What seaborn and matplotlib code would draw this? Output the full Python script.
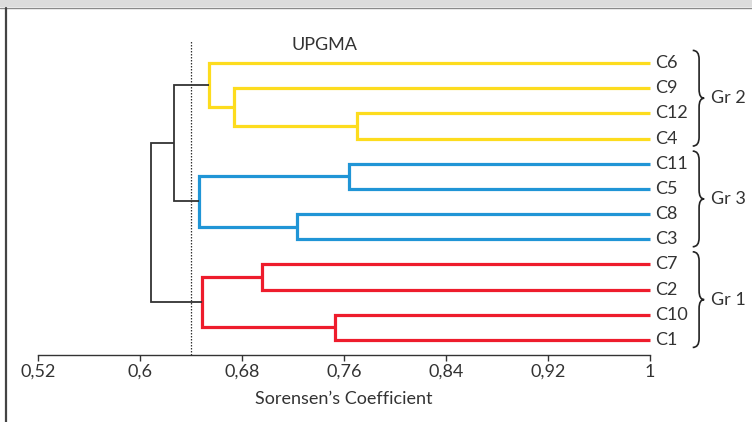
import matplotlib
matplotlib.use("Agg")
import matplotlib.pyplot as plt
import seaborn as sns
from matplotlib.path import Path
from matplotlib.patches import PathPatch, Rectangle
from matplotlib.lines import Line2D

# ---- data ----
leaves = ["C6", "C9", "C12", "C4", "C11", "C5", "C8", "C3", "C7", "C2", "C10", "C1"]
# merges: node ids 0..11 are leaves (in order above), new nodes get 12, 13, ...
merge_a = [2, 1, 0, 4, 6, 15, 8, 10, 18, 14, 21]
merge_b = [3, 12, 13, 5, 7, 16, 9, 11, 19, 17, 20]
merge_h = [0.770, 0.674, 0.654, 0.764, 0.723, 0.646, 0.696, 0.753, 0.649, 0.627, 0.609]
merge_c = ["y", "y", "y", "b", "b", "b", "r", "r", "r", "k", "k"]
groups = ["Gr 2", "Gr 3", "Gr 1"]
group_first = [0, 4, 8]
group_last = [3, 7, 11]
ticks = [0.52, 0.60, 0.68, 0.76, 0.84, 0.92, 1.0]
tick_labels = ["0,52", "0,6", "0,68", "0,76", "0,84", "0,92", "1"]
cut_value = 0.640

colors = {"y": "#FDDC1E", "b": "#2095D6", "r": "#EE1C2C", "k": "#333333"}

sns.set_theme(style="white")
plt.rcParams["font.family"] = ["Lato", "DejaVu Sans"]
txt = "#333333"
fs = 13

fig = plt.figure(figsize=(7.52, 4.22), dpi=100)
W, H = 752, 422
ax = fig.add_axes([38 / W, (H - 355) / H, (650 - 38) / W, (355 - 30) / H])

ax.set_xlim(0.52, 1.0)
ax.set_ylim(11.6, -1.31)

# node positions
pos = {i: (1.0, float(i)) for i in range(len(leaves))}
nid = len(leaves)
for a, b, h, c in zip(merge_a, merge_b, merge_h, merge_c):
    xa, ya = pos[a]
    xb, yb = pos[b]
    lw = 1.3 if c == "k" else 2.3
    col = colors[c]
    ax.plot([xa, h, h, xb], [ya, ya, yb, yb], color=col, lw=lw,
            solid_capstyle="butt", solid_joinstyle="miter", clip_on=False, zorder=3)
    pos[nid] = (h, (ya + yb) / 2)
    nid += 1

# cut line
ax.plot([cut_value, cut_value], [11.6, -0.87], color="#333333", lw=0.9,
        ls=(0, (1.2, 1.2)), clip_on=False, zorder=2)

# leaf labels
for i, name in enumerate(leaves):
    ax.text(1.004, i, name, ha="left", va="center", fontsize=fs, color=txt, clip_on=False)

# braces
def brace(y0, y1, xl, xm, xt, r):
    ym = (y0 + y1) / 2
    verts = [(xl, y0), (xm, y0), (xm, y0 + r), (xm, ym - r), (xm, ym), (xt, ym),
             (xm, ym), (xm, ym + r), (xm, y1 - r), (xm, y1), (xl, y1)]
    codes = [Path.MOVETO, Path.CURVE3, Path.CURVE3, Path.LINETO, Path.CURVE3, Path.CURVE3,
             Path.CURVE3, Path.CURVE3, Path.LINETO, Path.CURVE3, Path.CURVE3]
    p = PathPatch(Path(verts, codes), fill=False, ec="#222222", lw=1.2, clip_on=False)
    ax.add_patch(p)
    return ym

for g, f, l in zip(groups, group_first, group_last):
    ym = brace(f - 0.5, l + 0.3, 1.0335, 1.0385, 1.0425, 0.35)
    ax.text(1.0475, ym, g, ha="left", va="center", fontsize=fs, color=txt, clip_on=False)

ax.text(0.745, -0.71, "UPGMA", ha="center", va="center", fontsize=fs, color=txt)

# axes styling
for s in ["top", "right", "left"]:
    ax.spines[s].set_visible(False)
ax.spines["bottom"].set_color("#333333")
ax.spines["bottom"].set_linewidth(1.0)
ax.set_yticks([])
ax.set_xticks(ticks)
ax.set_xticklabels(tick_labels, fontsize=fs, color=txt)
ax.tick_params(axis="x", direction="out", length=4, width=1.0, color="#333333", pad=2.5, bottom=True)
ax.set_xlabel("Sorensen’s Coefficient", fontsize=fs, color=txt, labelpad=8)

# frame decorations
fig.patches.append(Rectangle((0, (H - 7) / H), 1, 7 / H, transform=fig.transFigure,
                             facecolor="#DCDCDC", edgecolor="none", zorder=0))
fig.lines.append(Line2D([0, 1], [(H - 7.5) / H] * 2, transform=fig.transFigure,
                        color="#8A8A8A", lw=1.0))
fig.lines.append(Line2D([6 / W, 6 / W], [0, (H - 7.5) / H], transform=fig.transFigure,
                        color="#444444", lw=1.6))

fig.savefig("out.png", dpi=100)
